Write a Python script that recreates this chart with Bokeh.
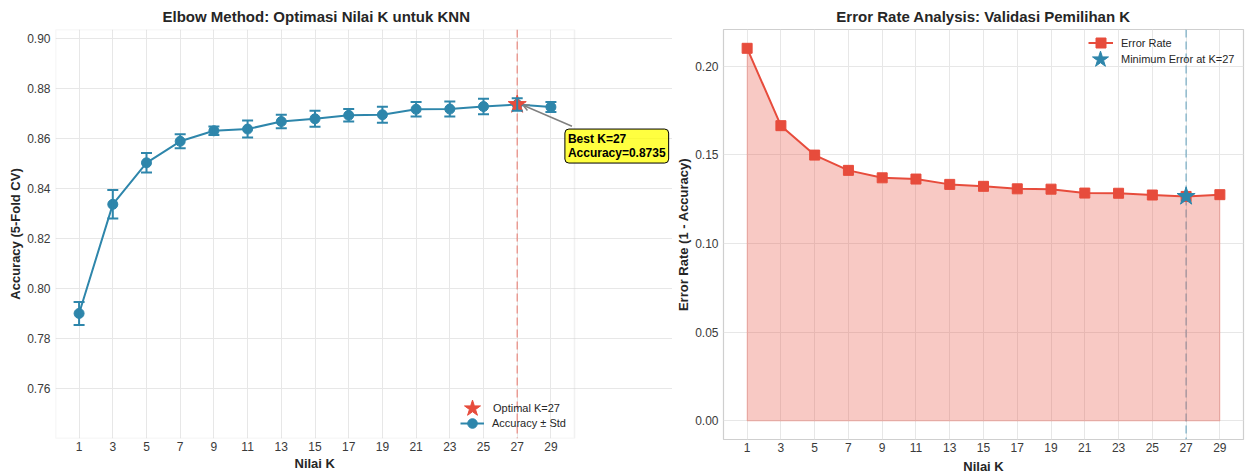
from bokeh.plotting import figure
from bokeh.layouts import row
from bokeh.models import (ColumnDataSource, Whisker, TeeHead, Span, Label, Arrow,
                          OpenHead, Legend, LegendItem, FixedTicker, BoxAnnotation,
                          NumeralTickFormatter, Range1d, Title)
from bokeh.embed import file_html
from bokeh.resources import INLINE

# ---------------- data ----------------
k_values = [1, 3, 5, 7, 9, 11, 13, 15, 17, 19, 21, 23, 25, 27, 29]
accuracy = [0.7900, 0.8336, 0.8502, 0.8588, 0.8630, 0.8637, 0.8667, 0.8678,
            0.8692, 0.8694, 0.8716, 0.8717, 0.8727, 0.8735, 0.8725]
accuracy_std = [0.0046, 0.0057, 0.0039, 0.0028, 0.0017, 0.0034, 0.0027, 0.0032,
                0.0025, 0.0032, 0.0029, 0.0030, 0.0031, 0.0025, 0.0020]
best_k = 27
best_acc = 0.8735
x_ticks = [1, 3, 5, 7, 9, 11, 13, 15, 17, 19, 21, 23, 25, 27, 29]
left_y_ticks = [0.76, 0.78, 0.80, 0.82, 0.84, 0.86, 0.88, 0.90]
right_y_ticks = [0.00, 0.05, 0.10, 0.15, 0.20]

error_rate = [1 - a for a in accuracy]
best_err = 1 - best_acc

# axis limits
X_LO, X_HI = -0.4, 30.4
ACC_LO, ACC_HI = 0.74, 0.9035
ERR_LO, ERR_HI = -0.0105, 0.2206

BLUE = "#2E86AB"
RED = "#E74C3C"
FONT = "Liberation Sans"
TXT = "#262626"
TICK = "#3a3a3a"
FRAME = "#cfcfcf"

src = ColumnDataSource(dict(
    k=k_values, acc=accuracy, err=error_rate,
    upper=[a + s for a, s in zip(accuracy, accuracy_std)],
    lower=[a - s for a, s in zip(accuracy, accuracy_std)],
    zero=[0.0] * len(k_values),
))
edge_src = ColumnDataSource(dict(
    x=[k_values[0], k_values[-1]], y0=[0.0, 0.0],
    y1=[error_rate[0], error_rate[-1]],
))


def style(p):
    p.title.text_font = FONT
    p.title.text_font_size = "15px"
    p.title.text_font_style = "bold"
    p.title.text_color = TXT
    p.title.align = "center"
    p.outline_line_color = FRAME
    p.outline_line_width = 1.2
    p.background_fill_color = "white"
    p.border_fill_color = "white"
    for g in (p.xgrid, p.ygrid):
        g.grid_line_color = "#e7e7e7"
        g.grid_line_width = 1
    for ax in (p.xaxis, p.yaxis):
        ax.axis_line_color = None
        ax.major_tick_line_color = None
        ax.minor_tick_line_color = None
        ax.major_tick_out = 0
        ax.major_tick_in = 0
        ax.minor_tick_out = 0
        ax.minor_tick_in = 0
        ax.major_label_text_font = FONT
        ax.major_label_text_font_size = "12px"
        ax.major_label_text_color = TICK
        ax.axis_label_text_font = FONT
        ax.axis_label_text_font_size = "13px"
        ax.axis_label_text_font_style = "bold"
        ax.axis_label_text_color = TXT
    p.xaxis.major_label_standoff = 3
    p.xaxis.axis_label_standoff = 4
    p.yaxis.major_label_standoff = 5
    p.yaxis.axis_label_standoff = 1
    p.xaxis.ticker = FixedTicker(ticks=x_ticks)
    p.yaxis.formatter = NumeralTickFormatter(format="0.00")


def make_legend(items, loc, gw, gh, standoff):
    return Legend(items=items, location=loc, orientation="vertical",
                  glyph_width=gw, glyph_height=gh, label_height=gh,
                  label_standoff=standoff, padding=0, margin=0, spacing=0,
                  border_line_color=None, background_fill_alpha=0,
                  label_text_font=FONT, label_text_font_size="11px",
                  label_text_color=TXT)


# ---------------- left ----------------
# frame is widened to the right so the annotation box is not clipped;
# the visible axes box is restored with bounds + a box outline
px_per_unit = 519 / (X_HI - X_LO)
left_frame_w = 617
p1 = figure(frame_width=left_frame_w, frame_height=409,
            min_border_left=55, min_border_right=0,
            min_border_top=28, min_border_bottom=36,
            x_range=Range1d(X_LO, X_LO + left_frame_w / px_per_unit),
            y_range=Range1d(ACC_LO, ACC_HI),
            y_axis_label="Accuracy (5-Fold CV)",
            output_backend="svg", toolbar_location=None)
style(p1)
p1.title.text = "Elbow Method: Optimasi Nilai K untuk KNN"
p1.title.align = "left"
p1.title.offset = 107
p1.outline_line_color = None
p1.ygrid.bounds = (X_LO, X_HI)
p1.xaxis.bounds = (X_LO, X_HI)
p1.yaxis.ticker = FixedTicker(ticks=left_y_ticks)
p1.add_layout(Title(text="Nilai K", align="left", offset=239,
                    text_font=FONT, text_font_size="13px", text_font_style="bold",
                    text_color=TXT, standoff=1), "below")
p1.add_layout(BoxAnnotation(left=X_LO, right=X_HI, bottom=ACC_LO, top=ACC_HI,
                            fill_alpha=0, fill_color=None, line_color=FRAME,
                            line_width=1.5))

p1.add_layout(Span(location=best_k, dimension="height", line_color=RED,
                   line_alpha=0.5, line_width=1.5, line_dash="8 4",
                   level="underlay"))
line1 = p1.line("k", "acc", source=src, line_color=BLUE, line_width=2)
p1.add_layout(Whisker(base="k", upper="upper", lower="lower", source=src,
                      line_color=BLUE, line_width=2, level="glyph",
                      upper_head=TeeHead(size=11, line_color=BLUE, line_width=2),
                      lower_head=TeeHead(size=11, line_color=BLUE, line_width=2)))
dots1 = p1.scatter("k", "acc", source=src, size=10, marker="circle",
                   fill_color=BLUE, line_color=BLUE)
star1 = p1.scatter([best_k], [best_acc], marker="star", size=19,
                   fill_color=RED, line_color=RED)

p1.add_layout(Arrow(x_start=30.25, y_start=0.8648, x_end=best_k + 0.35, y_end=best_acc - 0.0003,
                    line_color="gray", line_width=1.5,
                    end=OpenHead(size=6, line_color="gray", line_width=1.5)))
p1.add_layout(Label(x=29.83, y=0.8637,
                    text=f"Best K={best_k}\nAccuracy={best_acc:.4f}",
                    text_font=FONT, text_font_size="12px", text_font_style="bold",
                    text_color="black", text_align="left", text_baseline="top",
                    text_line_height=1.0,
                    background_fill_color="yellow", background_fill_alpha=0.75,
                    border_line_color="black", border_line_width=1,
                    padding=3, border_radius=4))

p1.add_layout(make_legend([LegendItem(label=f"Optimal K={best_k}", renderers=[star1])],
                          (396, 9), 42, 42, 0))
p1.add_layout(make_legend([LegendItem(label="Accuracy ± Std", renderers=[line1, dots1])],
                          (405, 3), 24, 24, 8))

# ---------------- right ----------------
p2 = figure(frame_width=520, frame_height=410,
            min_border_left=51, min_border_right=3,
            min_border_top=28, min_border_bottom=35,
            x_range=Range1d(X_LO, X_HI), y_range=Range1d(ERR_LO, ERR_HI),
            title="Error Rate Analysis: Validasi Pemilihan K",
            x_axis_label="Nilai K", y_axis_label="Error Rate (1 - Accuracy)",
            output_backend="svg", toolbar_location=None)
style(p2)
p2.yaxis.ticker = FixedTicker(ticks=right_y_ticks)

p2.varea(x="k", y1="zero", y2="err", source=src, fill_color=RED, fill_alpha=0.3)
p2.line("k", "zero", source=src, line_color=RED, line_alpha=0.3, line_width=1)
p2.segment(x0="x", y0="y0", x1="x", y1="y1", source=edge_src,
           line_color=RED, line_alpha=0.3, line_width=1)
p2.add_layout(Span(location=best_k, dimension="height", line_color=BLUE,
                   line_alpha=0.5, line_width=1.5, line_dash="8 4",
                   level="underlay"))
line2 = p2.line("k", "err", source=src, line_color=RED, line_width=2)
sq2 = p2.scatter("k", "err", source=src, marker="square", size=10,
                 fill_color=RED, line_color=RED)
star2 = p2.scatter([best_k], [best_err], marker="star", size=19,
                   fill_color=BLUE, line_color=BLUE)

p2.add_layout(make_legend([LegendItem(label="Error Rate", renderers=[line2, sq2])],
                          (365, 384), 25, 25, 8))
p2.add_layout(make_legend([LegendItem(label=f"Minimum Error at K={best_k}", renderers=[star2])],
                          (356, 359), 42, 42, 0))

layout = row(p1, p2)
open("out.html", "w").write(file_html(layout, INLINE))
